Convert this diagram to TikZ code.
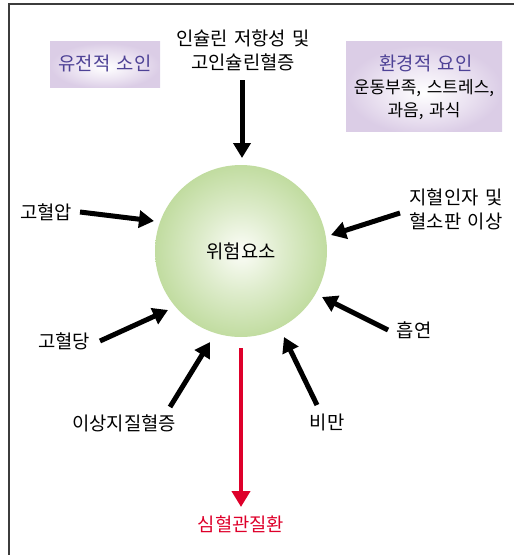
\documentclass[tikz,border=0pt]{standalone}
\usepackage{fontspec}
\setmainfont[WordSpace=1.5]{Noto Sans CJK KR}
\usetikzlibrary{arrows.meta}
\definecolor{ballgreen}{RGB}{193,220,160}
\definecolor{ballmid}{RGB}{222,236,204}
\definecolor{ballcenter}{RGB}{252,253,248}
\definecolor{lav}{RGB}{219,205,230}
\definecolor{lavmid}{RGB}{236,228,242}
\definecolor{titlec}{RGB}{78,66,150}
\definecolor{redc}{RGB}{222,0,42}
\definecolor{framec}{RGB}{60,60,60}
\pgfdeclareradialshading{greenball}{\pgfpoint{0bp}{0bp}}{color(0bp)=(ballcenter); color(12bp)=(ballmid); color(25bp)=(ballgreen); color(50bp)=(ballgreen)}
\pgfdeclareradialshading{lavbox}{\pgfpoint{0bp}{-4bp}}{color(0bp)=(white); color(14bp)=(lavmid); color(25bp)=(lav); color(50bp)=(lav)}
\tikzset{
  lbl/.style={font=\fontsize{18.8pt}{24pt}\selectfont, inner sep=0pt, align=center, text=black},
  small/.style={font=\fontsize{17pt}{23pt}\selectfont, inner sep=0pt, align=center, text=black},
  blk/.style={line width=5pt, draw=black, -{Triangle[width=17pt,length=15pt]}},
  redarr/.style={line width=4.5pt, draw=redc, -{Triangle[width=18pt,length=16pt]}},
  frame/.style={line width=1.6pt, draw=framec}
}
\begin{document}
\begin{tikzpicture}[x=1pt,y=-1pt]
\useasboundingbox (0,0) rectangle (514,555);
% frame
\draw[frame] (9,555) -- (9,4) -- (514,4);
% boxes
\path[shading=lavbox] (50,41) rectangle (160,87);
\path[shading=lavbox] (346,41) rectangle (502,131);
\node[lbl, text=titlec] (gen) at (105,63) {유전적 소인};
\node[lbl, text=titlec] (envt) at (426,63) {환경적 요인};
\node[small] (envb) at (424,99.5) {운동부족, 스트레스,\\과음, 과식};
% circle
\node[circle, minimum size=172pt, inner sep=0pt, shading=greenball] (risk) at (241,251) {};
\node[lbl] (risklbl) at (241,251) {위험요소};
% labels
\node[lbl] (ins) at (243,50) {인슐린 저항성 및\\고인슐린혈증};
\node[lbl] (htn) at (46,212) {고혈압};
\node[lbl] (dm) at (64,341) {고혈당};
\node[lbl] (lip) at (124,423) {이상지질혈증};
\node[lbl] (obe) at (327,422) {비만};
\node[lbl] (smk) at (414,330) {흡연};
\node[lbl] (coag) at (456,209) {지혈인자 및\\혈소판 이상};
\node[lbl, text=redc] (cvd) at (241,524) {심혈관질환};
% arrow coordinates
\coordinate (a1s) at (242,80);  \coordinate (a1e) at (242,158);
\coordinate (a2s) at (80,212);  \coordinate (a2e) at (154,221);
\coordinate (a3s) at (100,341); \coordinate (a3e) at (168,310);
\coordinate (a4s) at (170,407); \coordinate (a4e) at (210,342);
\coordinate (a5s) at (317,405); \coordinate (a5e) at (284,337);
\coordinate (a6s) at (388,330); \coordinate (a6e) at (322,297);
\coordinate (a7s) at (400,213); \coordinate (a7e) at (331,235);
\coordinate (rs) at (241,348);  \coordinate (re) at (241,507);
\draw[blk] (a1s) -- (a1e);
\draw[blk] (a2s) -- (a2e);
\draw[blk] (a3s) -- (a3e);
\draw[blk] (a4s) -- (a4e);
\draw[blk] (a5s) -- (a5e);
\draw[blk] (a6s) -- (a6e);
\draw[blk] (a7s) -- (a7e);
\draw[redarr] (rs) -- (re);
\end{tikzpicture}
\end{document}
